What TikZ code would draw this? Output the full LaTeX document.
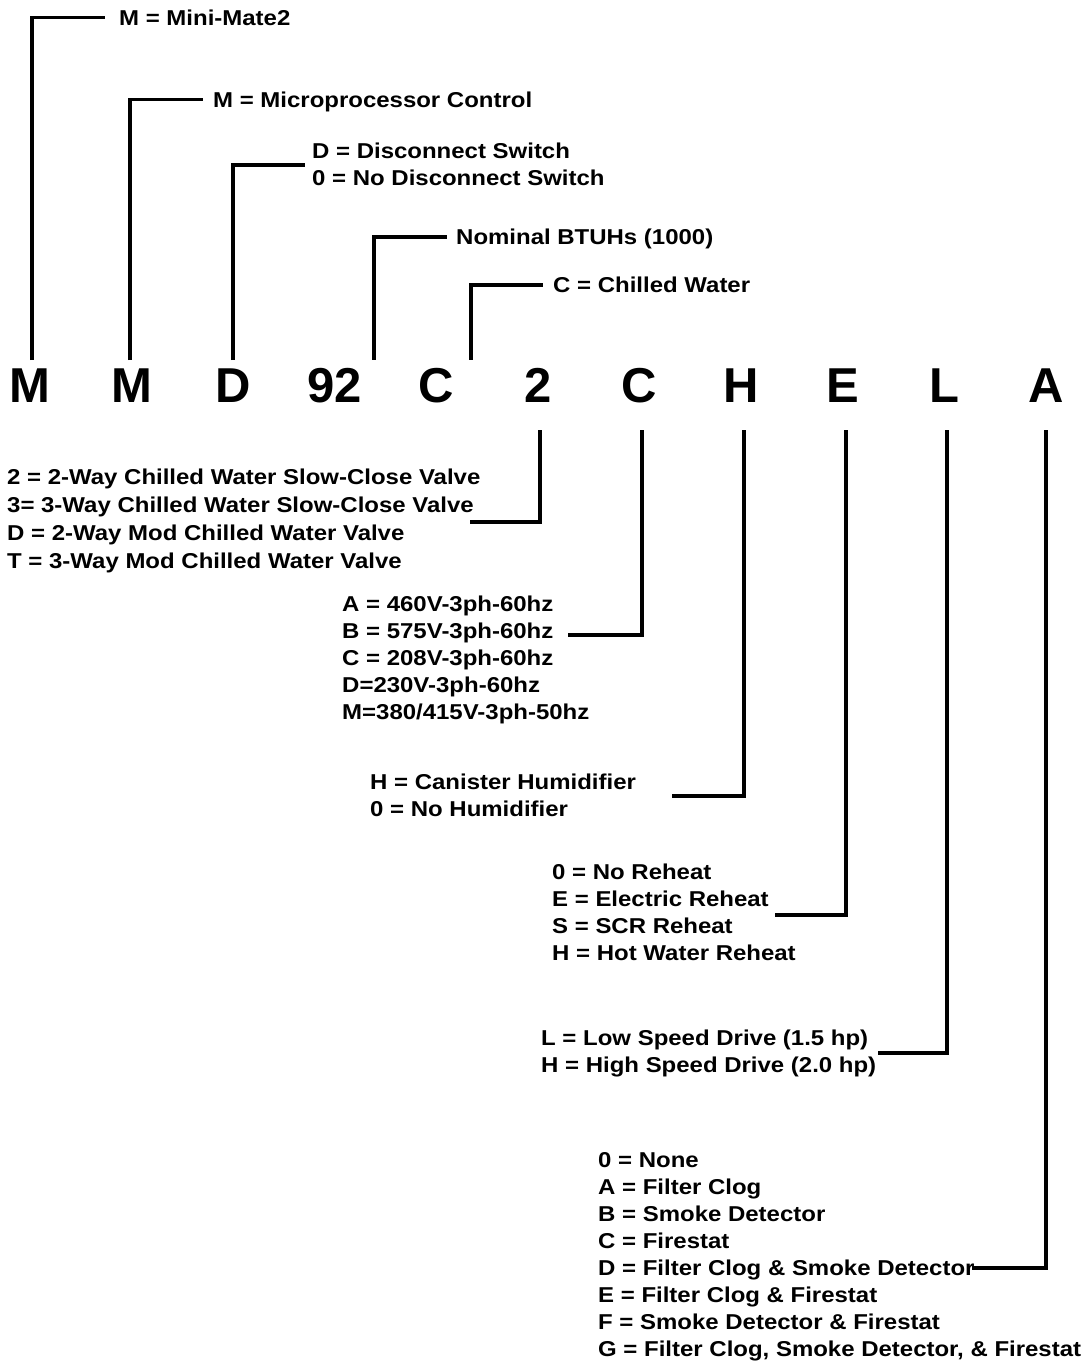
\documentclass[tikz,border=0pt]{standalone}
\usepackage{fontspec}
\setmainfont{Liberation Sans}
\newfontfamily\lblfont{Liberation Sans}[FakeStretch=1.115]
\begin{document}
\begin{tikzpicture}[x=1pt,y=-1pt]
\tikzset{
  lbl/.style={font=\lblfont\bfseries\fontsize{21.5}{27}\selectfont, anchor=north west, inner sep=0pt, align=left},
  big/.style={font=\bfseries\fontsize{49}{55}\selectfont, anchor=base, inner sep=0pt},
  lead/.style={line width=3.1pt}
}
\useasboundingbox (0,0) rectangle (1090,1362);

% code letters
\node[big] (k1) at (30,402) {M};
\node[big] (k2) at (131.6,402) {M};
\node[big] (k3) at (233.2,402) {D};
\node[big] (k4) at (334.8,402) {92};
\node[big] (k5) at (436.4,402) {C};
\node[big] (k6) at (538,402) {2};
\node[big] (k7) at (639.6,402) {C};
\node[big] (k8) at (741.2,402) {H};
\node[big] (k9) at (842.8,402) {E};
\node[big] (k10) at (944.4,402) {L};
\node[big] (k11) at (1046,402) {A};

% upper labels
\node[lbl] (t1) at (119,10.2) {M = Mini-Mate2};
\node[lbl] (t2) at (213,91.7) {M = Microprocessor Control};
\node[lbl] (t3) at (312,142.9) {D = Disconnect Switch\\0 = No Disconnect Switch};
\node[lbl] (t4) at (456,229.2) {Nominal BTUHs (1000)};
\node[lbl] (t5) at (553,277.2) {C = Chilled Water};

% lower labels
\node[lbl, font=\lblfont\bfseries\fontsize{21.5}{27.7}\selectfont] (b1) at (7,469.2) {2 = 2-Way Chilled Water Slow-Close Valve\\3= 3-Way Chilled Water Slow-Close Valve\\D = 2-Way Mod Chilled Water Valve\\T = 3-Way Mod Chilled Water Valve};
\node[lbl] (b2) at (342,596.2) {A = 460V-3ph-60hz\\B = 575V-3ph-60hz\\C = 208V-3ph-60hz\\D=230V-3ph-60hz\\M=380/415V-3ph-50hz};
\node[lbl] (b3) at (370,774.2) {H = Canister Humidifier\\0 = No Humidifier};
\node[lbl] (b4) at (552,864.2) {0 = No Reheat\\E = Electric Reheat\\S = SCR Reheat\\H = Hot Water Reheat};
\node[lbl] (b5) at (541,1030.2) {L = Low Speed Drive (1.5 hp)\\H = High Speed Drive (2.0 hp)};
\node[lbl] (b6) at (598,1152.2) {0 = None\\A = Filter Clog\\B = Smoke Detector\\C = Firestat\\D = Filter Clog \& Smoke Detector\\E = Filter Clog \& Firestat\\F = Smoke Detector \& Firestat\\G = Filter Clog, Smoke Detector, \& Firestat};

% free ends of leaders
\coordinate (v1) at (105,17.5);
\coordinate (v2) at (203,99.5);
\coordinate (v3) at (305,165);
\coordinate (v4) at (447,237);
\coordinate (v5) at (543,285);
\coordinate (w1) at (470,522);
\coordinate (w2) at (568,635);
\coordinate (w3) at (672,796);
\coordinate (w4) at (775,915);
\coordinate (w5) at (878,1053);
\coordinate (w6) at (972,1268);

% upper leaders
\draw[lead] ([xshift=2pt,yshift=8pt]k1.north) |- (v1);
\draw[lead] ([xshift=-1.6pt,yshift=8pt]k2.north) |- (v2);
\draw[lead] ([xshift=-0.2pt,yshift=8pt]k3.north) |- (v3);
\draw[lead] ([xshift=39.2pt,yshift=8pt]k4.north) |- (v4);
\draw[lead] ([xshift=34.6pt,yshift=8pt]k5.north) |- (v5);

% lower leaders
\draw[lead] ([xshift=2pt,yshift=-28pt]k6.base) |- (w1);
\draw[lead] ([xshift=2.4pt,yshift=-28pt]k7.base) |- (w2);
\draw[lead] ([xshift=2.8pt,yshift=-28pt]k8.base) |- (w3);
\draw[lead] ([xshift=3.2pt,yshift=-28pt]k9.base) |- (w4);
\draw[lead] ([xshift=2.6pt,yshift=-28pt]k10.base) |- (w5);
\draw[lead] ([xshift=0pt,yshift=-28pt]k11.base) |- (w6);
\end{tikzpicture}
\end{document}
